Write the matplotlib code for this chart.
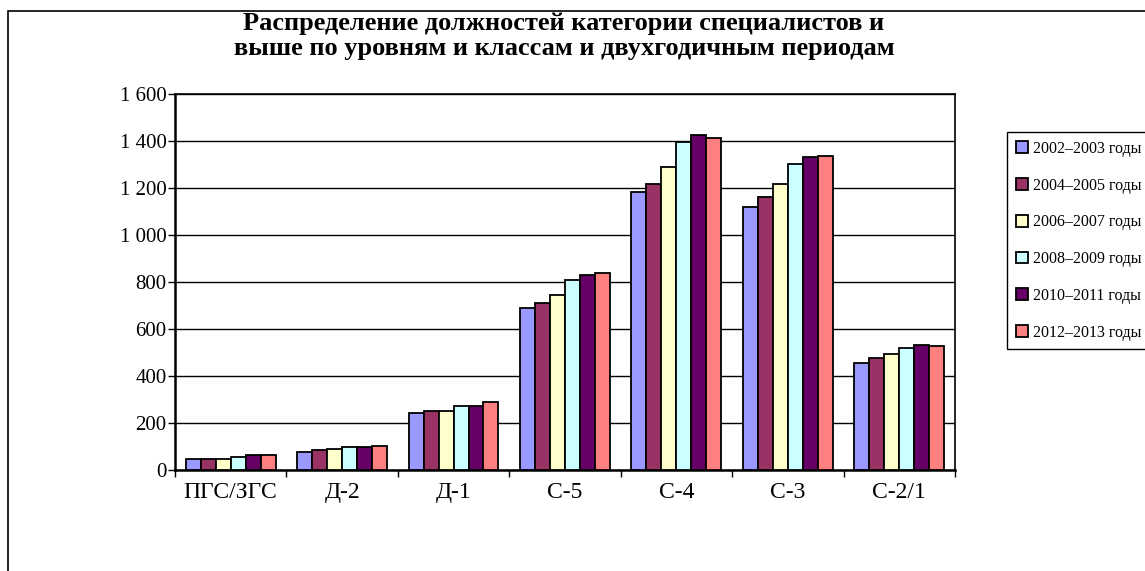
import matplotlib
matplotlib.use("Agg")
import matplotlib.pyplot as plt
import numpy as np
from matplotlib.patches import Rectangle

plt.rcParams['font.family'] = ['Liberation Serif', 'DejaVu Serif']

categories = ['ПГС/ЗГС', 'Д-2', 'Д-1', 'С-5', 'С-4', 'С-3', 'С-2/1']
periods = ['2002–2003 годы', '2004–2005 годы', '2006–2007 годы',
           '2008–2009 годы', '2010–2011 годы', '2012–2013 годы']
colors = ['#9999FF', '#993366', '#FFFFCC', '#CCFFFF', '#660066', '#FF8080']

v2002 = [47, 77, 244, 689, 1182, 1121, 457]
v2004 = [47, 84, 253, 712, 1217, 1162, 478]
v2006 = [47, 91, 253, 746, 1288, 1217, 492]
v2008 = [55, 96, 274, 809, 1396, 1303, 520]
v2010 = [62, 96, 274, 831, 1424, 1331, 533]
v2012 = [62, 104, 288, 837, 1414, 1338, 528]
series = [v2002, v2004, v2006, v2008, v2010, v2012]

fig = plt.figure(figsize=(11.45, 5.71), dpi=100)
ax = fig.add_axes([0.1528, 0.1769, 0.834 - 0.1528, 0.8354 - 0.1769])

x = np.arange(len(categories))
w = 0.1345
for i, vals in enumerate(series):
    ax.bar(x + (i - 2.5) * w, vals, w, color=colors[i], edgecolor='black',
           linewidth=1.3, label=periods[i], zorder=3)

ax.set_xlim(-0.5, len(categories) - 0.5)
ax.set_ylim(0, 1600)
ax.set_yticks(range(0, 1601, 200))
ax.set_yticklabels([f'{v:,}'.replace(',', ' ') for v in range(0, 1601, 200)])
ax.set_xticks(np.arange(-0.5, len(categories), 1.0))
ax.set_xticks(x, minor=True)
ax.set_xticklabels([])
ax.set_xticklabels(categories, minor=True)
ax.tick_params(axis='x', which='minor', length=0, labelsize=17, pad=9)
ax.tick_params(axis='x', which='major', length=5, width=1, direction='out')
ax.tick_params(axis='y', length=5, width=1, direction='out', labelsize=15, pad=1)
ax.yaxis.grid(True, color='black', linewidth=1, zorder=0)
for s in ax.spines.values():
    s.set_linewidth(1.2)
    s.set_color('black')
ax.spines['left'].set_linewidth(1.8)
ax.spines['bottom'].set_linewidth(1.8)

fig.text(0.4926, 1 - 36 / 571,
         'Распределение должностей категории специалистов и\n'
         'выше по уровням и классам и двухгодичным периодам',
         ha='center', va='center', fontsize=19, fontweight='bold',
         linespacing=1.15)

leg = fig.legend(loc='upper left', bbox_to_anchor=(1007 / 1145, 1 - 132 / 571),
                 bbox_transform=fig.transFigure, borderaxespad=0,
                 fontsize=11.5, labelspacing=1.3, handlelength=0.75,
                 handleheight=0.75, handletextpad=0.3, borderpad=0.55,
                 fancybox=False, framealpha=1, edgecolor='black')
leg.get_frame().set_linewidth(1)

fig.patches.append(Rectangle((8 / 1145, -0.1), 1.2, 1 - 11 / 571 + 0.1,
                             transform=fig.transFigure, fill=False,
                             edgecolor='black', linewidth=1.2))

fig.savefig('out.png', dpi=100)
